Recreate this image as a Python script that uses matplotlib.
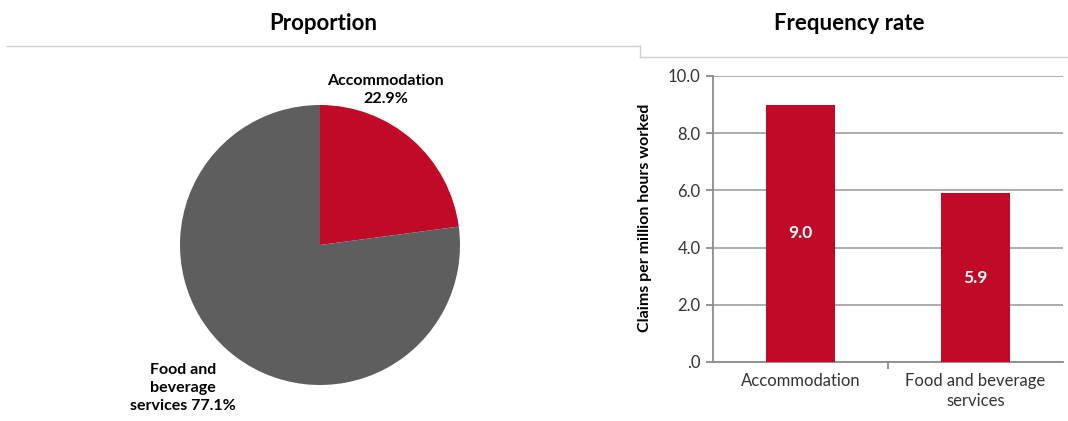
import matplotlib.pyplot as plt
import numpy as np

plt.rcParams['font.family'] = ['Lato', 'DejaVu Sans']

# data
pie_labels = ["Accommodation\n22.9%", "Food and\nbeverage\nservices 77.1%"]
pie_values = [22.9, 77.1]
bar_cats = ["Accommodation", "Food and beverage\nservices"]
bar_values = [9.0, 5.9]
y_ticks = [0, 2, 4, 6, 8, 10]
y_tick_labels = [".0", "2.0", "4.0", "6.0", "8.0", "10.0"]

red = "#C00A27"
grey = "#5E5E5E"

W, H = 1068, 421
fig = plt.figure(figsize=(W / 100, H / 100), dpi=100)


def px_axes(left, top, right, bottom):
    return fig.add_axes([left / W, 1 - bottom / H, (right - left) / W, (bottom - top) / H])


# titles + separator lines
fig.text(323 / W, 1 - 23 / H, "Proportion", ha="center", va="center", fontsize=16, fontweight="bold")
fig.text(849 / W, 1 - 23 / H, "Frequency rate", ha="center", va="center", fontsize=16, fontweight="bold")
line_kw = dict(color="#CFCFCF", lw=1, transform=fig.transFigure)
fig.add_artist(plt.Line2D([7 / W, 640 / W], [1 - 46 / H, 1 - 46 / H], **line_kw))
fig.add_artist(plt.Line2D([640 / W, 640 / W], [1 - 46 / H, 1 - 57 / H], **line_kw))
fig.add_artist(plt.Line2D([640 / W, 1 - 0.5 / W], [1 - 57 / H, 1 - 57 / H], **line_kw))

# pie
ax1 = px_axes(180, 105, 460, 385)
ax1.pie(pie_values, colors=[red, grey], startangle=90, counterclock=False, radius=1)
ax1.set_xlim(-1, 1)
ax1.set_ylim(-1, 1)
ax1.set_aspect("equal")
ax1.text(0.47, 1.11, pie_labels[0], ha="center", va="center", fontsize=11.5,
         fontweight="bold", linespacing=1.35)
ax1.text(-0.98, -1.02, pie_labels[1], ha="center", va="center", fontsize=11.5,
         fontweight="bold", linespacing=1.35)

# bars
ax2 = px_axes(713, 76, 1063, 362)
x = np.arange(len(bar_cats))
bars = ax2.bar(x, bar_values, width=0.39, color=red, zorder=3)
for b, v in zip(bars, bar_values):
    ax2.text(b.get_x() + b.get_width() / 2, v / 2, f"{v:.1f}", ha="center", va="center",
             color="white", fontsize=12.5, fontweight="bold", zorder=4)
ax2.set_xlim(-0.5, 1.5)
ax2.set_ylim(0, 10)
ax2.set_yticks(y_ticks)
ax2.set_yticklabels(y_tick_labels, fontsize=12, color="#333333")
ax2.set_xticks([0.5])
ax2.set_xticklabels([""])
for xi, c in zip(x, bar_cats):
    ax2.text(xi, -0.4, c, ha="center", va="top", fontsize=12, color="#333333",
             linespacing=1.3, transform=ax2.transData)
ax2.grid(axis="y", color="#A6A6A6", lw=1.3, zorder=0)
ax2.set_axisbelow(True)
for s in ["top", "right"]:
    ax2.spines[s].set_visible(False)
for s in ["left", "bottom"]:
    ax2.spines[s].set_color("#8C8C8C")
    ax2.spines[s].set_linewidth(1.3)
ax2.tick_params(axis="y", length=5, color="#8C8C8C", width=1.3, pad=4)
ax2.tick_params(axis="x", length=5, color="#8C8C8C", width=1.3)
ax2.set_ylabel("Claims per million hours worked", fontsize=11.5, fontweight="bold", labelpad=7)
ax2.yaxis.set_label_coords(-0.175, 0.505)

fig.savefig("out.png", dpi=100)
